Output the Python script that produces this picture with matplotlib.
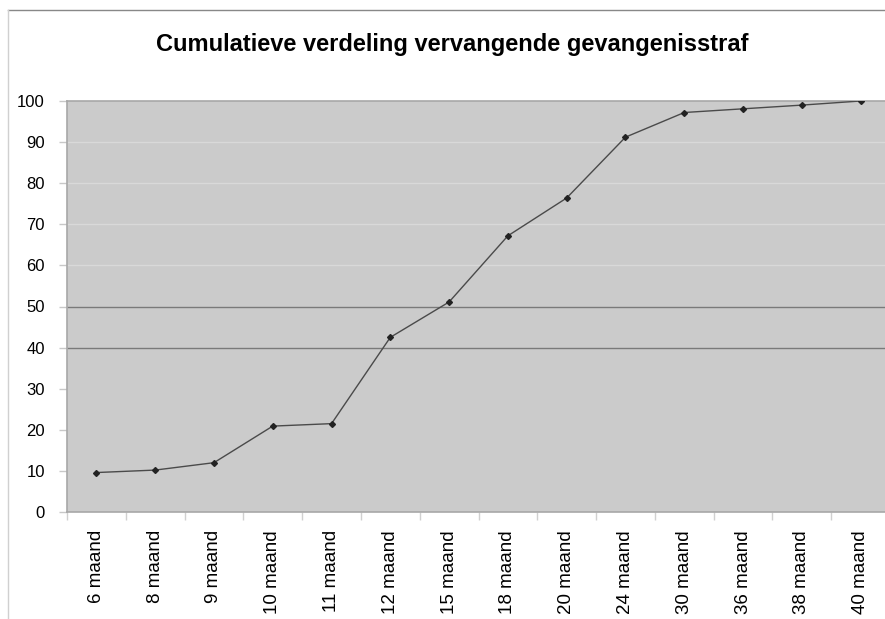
import matplotlib.pyplot as plt
import numpy as np
from matplotlib.lines import Line2D

plt.rcParams["font.family"] = ["Liberation Sans", "DejaVu Sans"]

LABELS = ["6 maand", "8 maand", "9 maand", "10 maand", "11 maand", "12 maand",
          "15 maand", "18 maand", "20 maand", "24 maand", "30 maand",
          "36 maand", "38 maand", "40 maand"]
CUMULATIVE = [9.6, 10.2, 12.0, 20.9, 21.5, 42.5, 51.1, 67.2, 76.4, 91.2,
              97.2, 98.1, 99.0, 100.0]
LIGHT_GRID = [60, 70, 80, 90]
DARK_GRID = [40, 50]

W, H = 885, 619
fig = plt.figure(figsize=(W / 100, H / 100), dpi=100)

# axes placed in pixel terms (plot area runs slightly past the right edge)
left, right, top, bottom = 67, 890, 101, 512
ax = fig.add_axes([left / W, 1 - bottom / H, (right - left) / W, (bottom - top) / H])
ax.set_facecolor("#cbcbcb")

x = np.arange(len(LABELS))
ax.set_xlim(-0.5, len(LABELS) - 0.5)
ax.set_ylim(0, 100)

for g in LIGHT_GRID:
    ax.axhline(g, color="#d9d9d9", lw=1, zorder=1)
for g in DARK_GRID:
    ax.axhline(g, color="#7a7a7a", lw=1, zorder=1)

ax.plot(x, CUMULATIVE, color="#4a4a4a", lw=1.0, zorder=3,
        marker="D", ms=3, mfc="#222222", mec="#222222")

ax.set_yticks(range(0, 101, 10))
ax.tick_params(axis="y", labelsize=12, length=6, width=1, color="#c8c8c8",
               pad=10)
ax.set_xticks(x)
ax.set_xticklabels(LABELS, rotation=90, fontsize=13.5)
ax.tick_params(axis="x", length=0, pad=13)
# category boundary ticks
ax.set_xticks(np.arange(len(LABELS) + 1) - 0.5, minor=True)
ax.tick_params(axis="x", which="minor", length=6, width=1, color="#d0d0d0")

for side in ["left", "top", "bottom"]:
    ax.spines[side].set_color("#a8a8a8")
    ax.spines[side].set_linewidth(1.2)
ax.spines["right"].set_visible(False)

fig.text(452 / W, 1 - 45 / H, "Cumulatieve verdeling vervangende gevangenisstraf",
         ha="center", va="center", fontsize=17, fontweight="bold")

# chart frame
fig.add_artist(Line2D([8 / W, 1], [1 - 10 / H, 1 - 10 / H], color="#888888", lw=1))
fig.add_artist(Line2D([8 / W, 8 / W], [0, 1 - 10 / H], color="#d0d0d0", lw=1))

fig.savefig("out.png", dpi=100)
